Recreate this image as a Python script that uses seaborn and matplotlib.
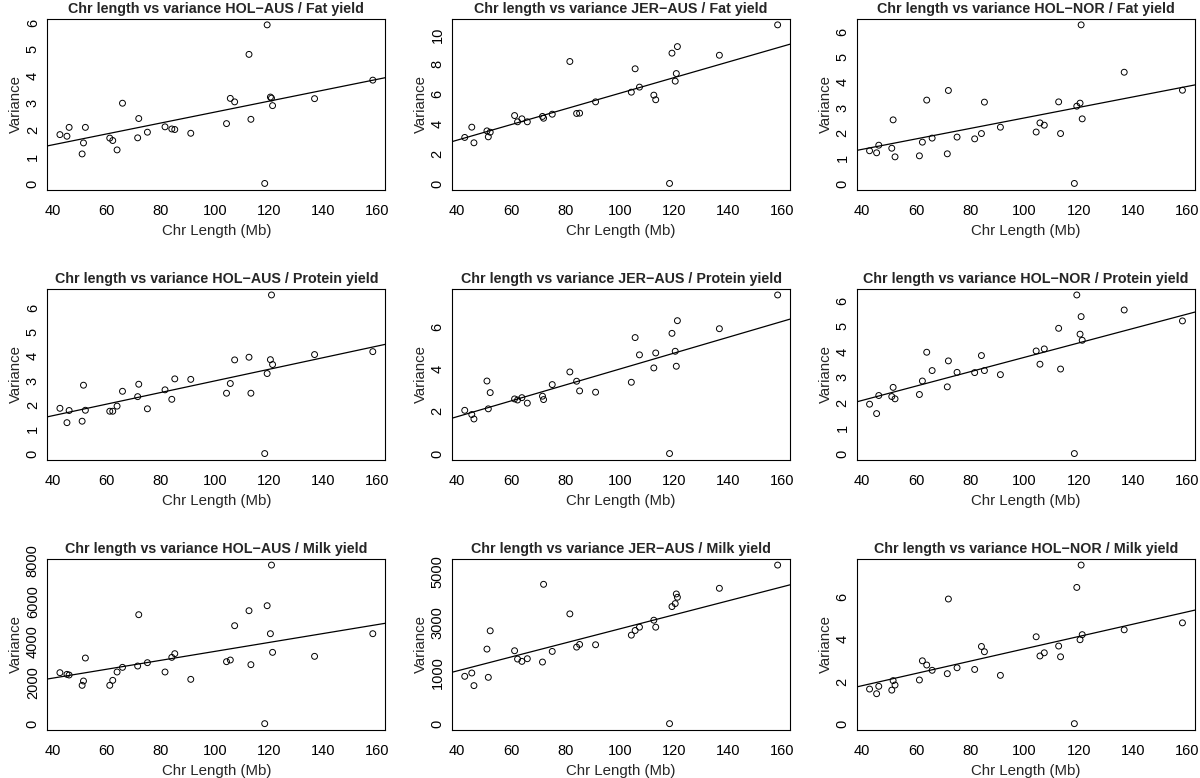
import numpy as np
import matplotlib
matplotlib.use("Agg")
import matplotlib.pyplot as plt
import seaborn as sns

# chromosome lengths (Mb), same for every panel
chr_length = [42.8, 45.4, 46.2, 51.0, 51.5, 52.2, 61.2, 62.3, 63.9, 65.9,
              71.5, 71.9, 75.1, 81.6, 84.1, 85.2, 91.1, 104.3, 105.7, 107.3,
              112.6, 113.3, 118.4, 119.3, 120.5, 120.9, 121.3, 136.8, 158.3]

# variance per chromosome
fat_hol_aus = [1.82, 1.76, 2.09, 1.10, 1.51, 2.09, 1.69, 1.60, 1.25, 2.99,
               1.70, 2.42, 1.91, 2.11, 2.03, 2.01, 1.87, 2.23, 3.17, 3.04,
               4.81, 2.39, 0.0, 5.91, 3.22, 3.18, 2.90, 3.16, 3.85]
fat_jer_aus = [3.09, 3.78, 2.73, 3.53, 3.13, 3.44, 4.56, 4.14, 4.34, 4.14,
               4.50, 4.38, 4.65, 8.19, 4.70, 4.72, 5.48, 6.13, 7.70, 6.47,
               5.93, 5.62, 0.0, 8.75, 6.87, 7.38, 9.19, 8.61, 10.65]
fat_hol_nor = [1.29, 1.21, 1.51, 1.39, 2.51, 1.05, 1.09, 1.63, 3.29, 1.79,
               1.17, 3.67, 1.83, 1.76, 1.97, 3.21, 2.22, 2.03, 2.39, 2.30,
               3.22, 1.97, 0.0, 3.05, 3.17, 6.26, 2.55, 4.39, 3.68]

prot_hol_aus = [1.86, 1.27, 1.77, 1.33, 2.81, 1.78, 1.74, 1.74, 1.95, 2.56,
                2.34, 2.85, 1.84, 2.62, 2.23, 3.07, 3.05, 2.48, 2.88, 3.85,
                3.96, 2.48, 0.0, 3.29, 3.86, 6.52, 3.66, 4.07, 4.19]
prot_jer_aus = [2.05, 1.85, 1.64, 3.44, 2.12, 2.89, 2.59, 2.54, 2.65, 2.39,
                2.72, 2.56, 3.27, 3.87, 3.43, 2.97, 2.91, 3.38, 5.50, 4.68,
                4.06, 4.77, 0.0, 5.70, 4.85, 4.14, 6.30, 5.92, 7.52]
prot_hol_nor = [1.94, 1.57, 2.28, 2.24, 2.60, 2.15, 2.32, 2.85, 3.98, 3.26,
                2.62, 3.64, 3.19, 3.18, 3.85, 3.26, 3.10, 4.03, 3.51, 4.11,
                4.92, 3.32, 0.0, 6.23, 4.69, 5.38, 4.45, 5.64, 5.21]

milk_hol_aus = [2498, 2416, 2384, 1878, 2090, 3216, 1878, 2122, 2531, 2759,
                2824, 5339, 2988, 2531, 3249, 3429, 2171, 3037, 3118, 4800,
                5535, 2890, 0, 5780, 4408, 7771, 3494, 3298, 4408]
# bottom point sits one tick below the "1000" tick on this panel's axis
milk_jer_aus = [869, 1000, 502, 1944, 829, 2666, 1879, 1551, 1459, 1564,
                1433, 4502, 1852, 3334, 2023, 2128, 2115, 2495, 2679, 2810,
                3085, 2810, -1000, 3623, 3741, 4121, 3990, 4344, 5262]
milk_hol_nor = [1.64, 1.42, 1.77, 1.59, 2.04, 1.83, 2.07, 2.98, 2.78, 2.53,
                2.37, 5.91, 2.65, 2.57, 3.66, 3.41, 2.29, 4.12, 3.21, 3.36,
                3.68, 3.17, 0.0, 6.46, 3.98, 7.52, 4.22, 4.45, 4.78]

breeds = ["HOL\u2212AUS", "JER\u2212AUS", "HOL\u2212NOR"]
traits = ["Fat yield", "Protein yield", "Milk yield"]

x_ticks = [40, 60, 80, 100, 120, 140, 160]
y_ticks = [
    [0, 1, 2, 3, 4, 5, 6], [0, 2, 4, 6, 8, 10], [0, 1, 2, 3, 4, 5, 6],
    [0, 1, 2, 3, 4, 5, 6], [0, 2, 4, 6], [0, 1, 2, 3, 4, 5, 6],
    [0, 2000, 4000, 6000, 8000], [-1000, 0, 1000, 2000, 3000, 4000, 5000], [0, 2, 4, 6],
]
y_tick_labels = [
    None, None, None,
    None, None, None,
    None, ["0", "", "1000", "", "3000", "", "5000"], None,
]

panels = [fat_hol_aus, fat_jer_aus, fat_hol_nor,
          prot_hol_aus, prot_jer_aus, prot_hol_nor,
          milk_hol_aus, milk_jer_aus, milk_hol_nor]

sns.set_theme(style="white")
plt.rcParams["font.family"] = ["Liberation Sans", "DejaVu Sans"]
plt.rcParams["axes.edgecolor"] = "black"
plt.rcParams["axes.linewidth"] = 0.8

fig, axes = plt.subplots(3, 3, figsize=(12, 7.78), dpi=100)
fig.subplots_adjust(left=0.0395, right=0.9958, top=0.9762, bottom=0.0617,
                    wspace=0.198, hspace=0.577)

x = np.array(chr_length)
for i, ax in enumerate(axes.flat):
    y = np.array(panels[i], dtype=float)
    # R style 4% padding around the data range
    xr = x.max() - x.min()
    yr = y.max() - y.min()
    ax.set_xlim(x.min() - 0.04 * xr, x.max() + 0.04 * xr)
    ax.set_ylim(y.min() - 0.04 * yr, y.max() + 0.04 * yr)

    sns.regplot(x=x, y=y, ax=ax, ci=None, truncate=False,
                scatter_kws=dict(marker="o", facecolors="none", edgecolors="black",
                                 s=18, linewidths=0.7, alpha=1),
                line_kws=dict(color="black", lw=0.9))

    ax.set_xticks(x_ticks)
    ax.set_yticks(y_ticks[i])
    if y_tick_labels[i] is not None:
        ax.set_yticklabels(y_tick_labels[i])
    ax.tick_params(direction="out", length=4, width=0.7, colors="black",
                   labelsize=10.5)
    ax.tick_params(axis="x", pad=6)
    ax.tick_params(axis="y", labelrotation=90, pad=1.5)
    for lab in ax.get_yticklabels():
        lab.set_va("center")
    for sp in ax.spines.values():
        sp.set_visible(True)
        sp.set_color("black")

    ax.set_xlabel("Chr Length (Mb)", fontsize=10.8, labelpad=4.5)
    ax.set_ylabel("Variance", fontsize=10.8, labelpad=2)
    ax.set_title("Chr length vs variance " + breeds[i % 3] + " / " + traits[i // 3],
                 fontsize=10.3, fontweight="bold", pad=4)

plt.savefig("out.png", dpi=100)
plt.close()
